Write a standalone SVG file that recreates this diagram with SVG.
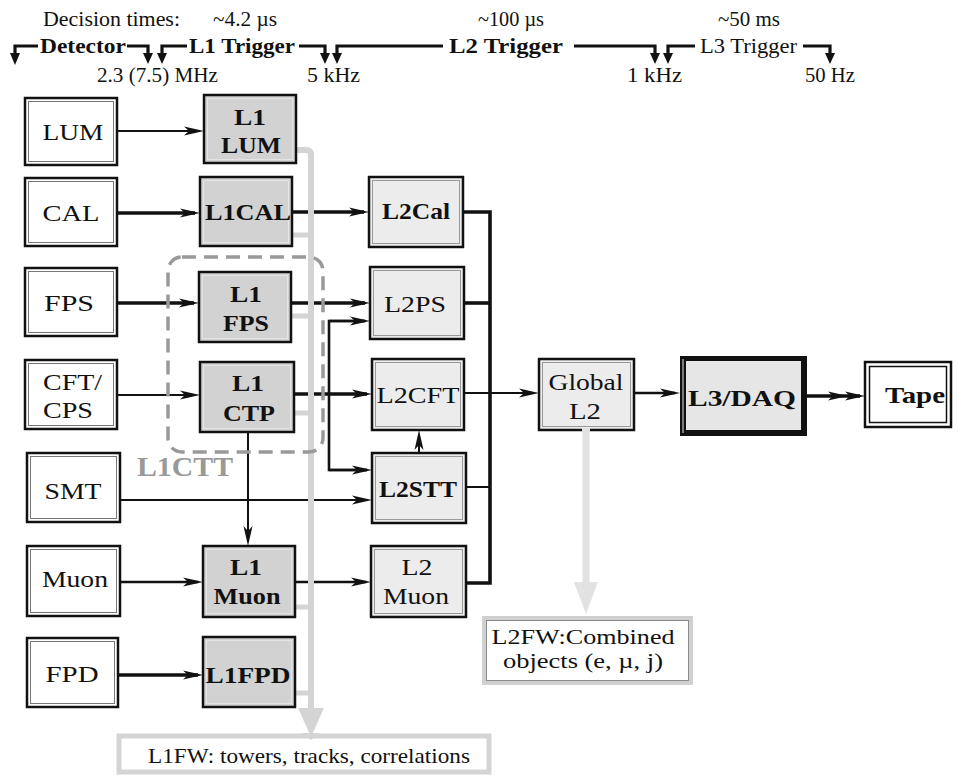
<svg xmlns="http://www.w3.org/2000/svg" width="959" height="775" viewBox="0 0 959 775">
<style>
text{font-family:"Liberation Serif","Times New Roman",serif;fill:#111}
.h{font-size:20px}
.f{font-size:22px}
.n{font-size:24px}
.b{font-weight:bold}
.c{text-anchor:middle}
.ln{fill:none;stroke:#111}
.w1{stroke-width:2}
.w2{stroke-width:2.6}
.w3{stroke-width:3.6}
.hd{fill:#111}
.inp{fill:#fff;stroke:#111;stroke-width:2.5}
.inpi{fill:none;stroke:#777;stroke-width:1}
.l1{fill:#d2d2d2;stroke:#111;stroke-width:2.5}
.l1i{fill:none;stroke:#e4e4e4;stroke-width:1}
.l2{fill:#ececec;stroke:#111;stroke-width:2.5}
.l2i{fill:none;stroke:#999;stroke-width:1}
.gb{fill:none;stroke:#d4d4d4;stroke-width:6}
</style>
<defs>
<marker id="ar" markerUnits="userSpaceOnUse" markerWidth="20" markerHeight="10" refX="15" refY="5" orient="auto">
<path d="M0,0.5 L20,5 L0,9.5 L5,5 z" fill="#111"/>
</marker>
</defs>

<g id="header">
<text class="h" x="43" y="26" textLength="137" lengthAdjust="spacingAndGlyphs">Decision times:</text>
<text class="h" x="213" y="26" textLength="64" lengthAdjust="spacingAndGlyphs">~4.2 µs</text>
<text class="h" x="478" y="26" textLength="66" lengthAdjust="spacingAndGlyphs">~100 µs</text>
<text class="h" x="718" y="26" textLength="62" lengthAdjust="spacingAndGlyphs">~50 ms</text>
<text class="h b" x="40" y="53" textLength="86" lengthAdjust="spacingAndGlyphs">Detector</text>
<text class="h b" x="189" y="53" textLength="106" lengthAdjust="spacingAndGlyphs">L1 Trigger</text>
<text class="h b" x="449" y="53" textLength="114" lengthAdjust="spacingAndGlyphs">L2 Trigger</text>
<text class="h" x="700" y="53" textLength="97" lengthAdjust="spacingAndGlyphs">L3 Trigger</text>
<text class="h" x="97" y="82" textLength="121" lengthAdjust="spacingAndGlyphs">2.3 (7.5) MHz</text>
<text class="h" x="307" y="82" textLength="53" lengthAdjust="spacingAndGlyphs">5 kHz</text>
<text class="h" x="627" y="82" textLength="55" lengthAdjust="spacingAndGlyphs">1 kHz</text>
<text class="h" x="805" y="82" textLength="50" lengthAdjust="spacingAndGlyphs">50 Hz</text>
<g class="ln" stroke-width="3.2">
<path d="M38,46 H15 V55"/>
<path d="M127,46 H148 V55"/>
<path d="M187,46 H162 V55"/>
<path d="M299,46 H325 V55"/>
<path d="M443,46 H337 V55"/>
<path d="M574,46 H655 V55"/>
<path d="M695,46 H668 V55"/>
<path d="M803,46 H830 V55"/>
</g>
<g class="hd">
<polygon points="10,53 20,53 15,65"/>
<polygon points="143,53 153,53 148,64"/>
<polygon points="157,53 167,53 162,64"/>
<polygon points="320,53 330,53 325,64"/>
<polygon points="332,53 342,53 337,64"/>
<polygon points="650,53 660,53 655,64"/>
<polygon points="663,53 673,53 668,64"/>
<polygon points="825,53 835,53 830,64"/>
</g>
</g>

<g id="connectors">
<line class="ln w1" x1="117" y1="131" x2="199" y2="131" marker-end="url(#ar)"/>
<line class="ln w3" x1="117" y1="213" x2="195" y2="213" marker-end="url(#ar)"/>
<line class="ln w3" x1="117" y1="303" x2="194" y2="303" marker-end="url(#ar)"/>
<line class="ln w1" x1="117" y1="395" x2="195" y2="395" marker-end="url(#ar)"/>
<line class="ln w1" x1="120" y1="500" x2="367" y2="500" marker-end="url(#ar)"/>
<line class="ln w2" x1="120" y1="582" x2="198" y2="582" marker-end="url(#ar)"/>
<line class="ln w3" x1="118" y1="675" x2="198" y2="675" marker-end="url(#ar)"/>
<line class="ln w3" x1="292" y1="212" x2="364" y2="212" marker-end="url(#ar)"/>
<line class="ln w3" x1="291" y1="303" x2="365" y2="303" marker-end="url(#ar)"/>
<line class="ln w3" x1="294" y1="394" x2="367" y2="394" marker-end="url(#ar)"/>
<path class="ln w2" d="M365,321 H329 V470 H367"/>
<line class="ln w2" x1="329" y1="321" x2="365" y2="321" marker-end="url(#ar)"/>
<line class="ln w2" x1="329" y1="470" x2="367" y2="470" marker-end="url(#ar)"/>
<line class="ln w1" x1="248" y1="432" x2="248" y2="541" marker-end="url(#ar)"/>
<line class="ln w2" x1="295" y1="582" x2="366" y2="582" marker-end="url(#ar)"/>
<line class="ln w1" x1="419" y1="453" x2="419" y2="435" marker-end="url(#ar)"/>
<path class="ln w3" d="M463,212 H490 V583 H466"/>
<line class="ln w3" x1="464" y1="303" x2="490" y2="303"/>
<line class="ln w1" x1="466" y1="487" x2="490" y2="487"/>
<line class="ln w1" x1="464" y1="393" x2="534" y2="393" marker-end="url(#ar)"/>
<line class="ln w2" x1="634" y1="393" x2="675" y2="393" marker-end="url(#ar)"/>
<line class="ln w3" x1="807" y1="396" x2="860" y2="396" marker-end="url(#ar)"/>
<path d="M828,391.5 L848,396 L828,400.5 L833,396 z" fill="#111"/>
</g>

<g id="l1fw-bus">
<path class="gb" d="M296,150 H306 Q311,150 311,155 V712"/>
<g stroke="#d4d4d4" stroke-width="5">
<line x1="292" y1="235" x2="311" y2="235"/>
<line x1="291" y1="316" x2="311" y2="316"/>
<line x1="294" y1="413" x2="311" y2="413"/>
<line x1="295" y1="607" x2="311" y2="607"/>
<line x1="295" y1="693" x2="311" y2="693"/>
</g>
<polygon points="298,708 324,708 311,737" fill="#d4d4d4"/>
</g>

<g id="l2fw-bus">
<line x1="586" y1="431" x2="586" y2="586" stroke="#e2e2e2" stroke-width="7"/>
<polygon points="574,582 598,582 586,614" fill="#e2e2e2"/>
</g>

<g id="LUM"><rect class="inp" x="25" y="98" width="92" height="67"/><rect class="inpi" x="28.5" y="101.5" width="85" height="60"/>
<text class="n c" x="73" y="140" textLength="61" lengthAdjust="spacingAndGlyphs">LUM</text></g>
<g id="CAL"><rect class="inp" x="25" y="178" width="92" height="68"/><rect class="inpi" x="28.5" y="181.5" width="85" height="61"/>
<text class="n c" x="71" y="221" textLength="57" lengthAdjust="spacingAndGlyphs">CAL</text></g>
<g id="FPS"><rect class="inp" x="25" y="268" width="92" height="68"/><rect class="inpi" x="28.5" y="271.5" width="85" height="61"/>
<text class="n c" x="69" y="311" textLength="50" lengthAdjust="spacingAndGlyphs">FPS</text></g>
<g id="CFT-CPS"><rect class="inp" x="25" y="360" width="92" height="69"/><rect class="inpi" x="28.5" y="363.5" width="85" height="62"/>
<text class="n" x="43" y="390" textLength="59" lengthAdjust="spacingAndGlyphs">CFT/</text>
<text class="n" x="43" y="418" textLength="50" lengthAdjust="spacingAndGlyphs">CPS</text></g>
<g id="SMT"><rect class="inp" x="27" y="453" width="93" height="69"/><rect class="inpi" x="30.5" y="456.5" width="86" height="62"/>
<text class="n c" x="73" y="499" textLength="57" lengthAdjust="spacingAndGlyphs">SMT</text></g>
<g id="Muon"><rect class="inp" x="27" y="546" width="93" height="70"/><rect class="inpi" x="30.5" y="549.5" width="86" height="63"/>
<text class="n c" x="75" y="587" textLength="66" lengthAdjust="spacingAndGlyphs">Muon</text></g>
<g id="FPD"><rect class="inp" x="27" y="638" width="91" height="69"/><rect class="inpi" x="30.5" y="641.5" width="84" height="62"/>
<text class="n c" x="72" y="682" textLength="53" lengthAdjust="spacingAndGlyphs">FPD</text></g>

<g id="L1LUM"><rect class="l1" x="204" y="95" width="92" height="68"/><rect class="l1i" x="207.5" y="98.5" width="85" height="61"/>
<text class="n b c" x="250" y="125" textLength="32" lengthAdjust="spacingAndGlyphs">L1</text>
<text class="n b c" x="251" y="153" textLength="60" lengthAdjust="spacingAndGlyphs">LUM</text></g>
<g id="L1CAL"><rect class="l1" x="200" y="177" width="92" height="69"/><rect class="l1i" x="203.5" y="180.5" width="85" height="62"/>
<text class="n b c" x="248" y="220" textLength="86" lengthAdjust="spacingAndGlyphs">L1CAL</text></g>
<g id="L1FPS"><rect class="l1" x="199" y="272" width="92" height="70"/><rect class="l1i" x="202.5" y="275.5" width="85" height="63"/>
<text class="n b c" x="246" y="302" textLength="32" lengthAdjust="spacingAndGlyphs">L1</text>
<text class="n b c" x="246" y="331" textLength="46" lengthAdjust="spacingAndGlyphs">FPS</text></g>
<g id="L1CTP"><rect class="l1" x="200" y="362" width="94" height="70"/><rect class="l1i" x="203.5" y="365.5" width="87" height="63"/>
<text class="n b c" x="248" y="391" textLength="32" lengthAdjust="spacingAndGlyphs">L1</text>
<text class="n b c" x="249" y="421" textLength="52" lengthAdjust="spacingAndGlyphs">CTP</text></g>
<g id="L1Muon"><rect class="l1" x="203" y="546" width="92" height="71"/><rect class="l1i" x="206.5" y="549.5" width="85" height="64"/>
<text class="n b c" x="246" y="575" textLength="32" lengthAdjust="spacingAndGlyphs">L1</text>
<text class="n b c" x="247" y="604" textLength="67" lengthAdjust="spacingAndGlyphs">Muon</text></g>
<g id="L1FPD"><rect class="l1" x="203" y="637" width="92" height="70"/><rect class="l1i" x="206.5" y="640.5" width="85" height="63"/>
<text class="n b c" x="248" y="683" textLength="85" lengthAdjust="spacingAndGlyphs">L1FPD</text></g>

<g id="L2Cal"><rect class="l2" x="369" y="177" width="94" height="70"/><rect class="l2i" x="372.5" y="180.5" width="87" height="63"/>
<text class="n b c" x="416" y="219" textLength="68" lengthAdjust="spacingAndGlyphs">L2Cal</text></g>
<g id="L2PS"><rect class="l2" x="370" y="267" width="94" height="72"/><rect class="l2i" x="373.5" y="270.5" width="87" height="65"/>
<text class="n c" x="415" y="312" textLength="62" lengthAdjust="spacingAndGlyphs">L2PS</text></g>
<g id="L2CFT"><rect class="l2" x="372" y="359" width="92" height="71"/><rect class="l2i" x="375.5" y="362.5" width="85" height="64"/>
<text class="n c" x="418" y="403" textLength="83" lengthAdjust="spacingAndGlyphs">L2CFT</text></g>
<g id="L2STT"><rect class="l2" x="372" y="453" width="94" height="70"/><rect class="l2i" x="375.5" y="456.5" width="87" height="63"/>
<text class="n b c" x="418" y="497" textLength="78" lengthAdjust="spacingAndGlyphs">L2STT</text></g>
<g id="L2Muon"><rect class="l2" x="371" y="546" width="95" height="71"/><rect class="l2i" x="374.5" y="549.5" width="88" height="64"/>
<text class="n c" x="417" y="575" textLength="31" lengthAdjust="spacingAndGlyphs">L2</text>
<text class="n c" x="416" y="604" textLength="66" lengthAdjust="spacingAndGlyphs">Muon</text></g>

<g id="GlobalL2"><rect class="l2" x="539" y="359" width="95" height="71"/><rect class="l2i" x="542.5" y="362.5" width="88" height="64"/>
<line x1="582" y1="430" x2="590" y2="430" stroke="#e2e2e2" stroke-width="4"/>
<text class="n c" x="586" y="390" textLength="75" lengthAdjust="spacingAndGlyphs">Global</text>
<text class="n c" x="585" y="419" textLength="32" lengthAdjust="spacingAndGlyphs">L2</text></g>

<g id="L3DAQ"><rect x="680" y="356" width="127" height="80" fill="#111"/><rect x="686" y="361" width="115" height="69" fill="#e6e6e6"/>
<line x1="683" y1="359" x2="683" y2="433" stroke="#e6e6e6" stroke-width="1"/>
<text class="n b c" x="742" y="406" textLength="108" lengthAdjust="spacingAndGlyphs">L3/DAQ</text></g>

<g id="Tape"><rect x="865" y="362" width="86" height="65" fill="#fff" stroke="#111" stroke-width="2.5"/><rect x="869.5" y="366.5" width="77" height="56" fill="none" stroke="#111" stroke-width="1.5"/>
<text class="n b c" x="915" y="403" textLength="60" lengthAdjust="spacingAndGlyphs">Tape</text></g>

<g id="L2FW"><rect x="484" y="618" width="207" height="65" fill="#fff" stroke="#d0d0d0" stroke-width="4"/><rect x="486.5" y="620.5" width="202" height="60" fill="none" stroke="#8a8a8a" stroke-width="1"/>
<text class="f c" x="583" y="644" textLength="183" lengthAdjust="spacingAndGlyphs">L2FW:Combined</text>
<text class="f c" x="583" y="668" textLength="160" lengthAdjust="spacingAndGlyphs">objects  (e, µ, j)</text></g>

<g id="L1FW"><rect x="119" y="736" width="370" height="36" fill="#fff" stroke="#d4d4d4" stroke-width="5"/>
<polygon points="302,733 320,733 311,740" fill="#d4d4d4"/>
<text class="f" x="148" y="763" textLength="322" lengthAdjust="spacingAndGlyphs">L1FW: towers, tracks, correlations</text></g>

<g id="L1CTT">
<rect x="168" y="257" width="155" height="195" rx="14" fill="none" stroke="#999" stroke-width="3.5" stroke-dasharray="14 8"/>
<text x="137" y="476" font-size="27" font-weight="bold" style="fill:#999" textLength="96" lengthAdjust="spacingAndGlyphs">L1CTT</text>
</g>
</svg>
